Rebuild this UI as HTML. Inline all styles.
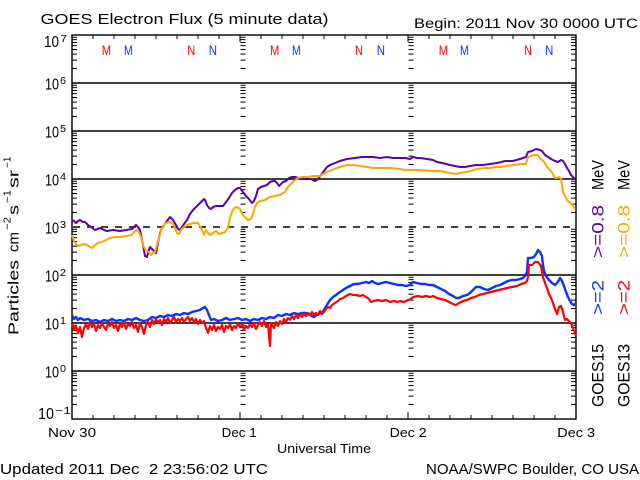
<!DOCTYPE html>
<html><head><meta charset="utf-8"><style>
html,body{margin:0;padding:0;background:#fff;}
svg{display:block;}
text{font-family:"Liberation Sans",sans-serif;fill:#000;}
</style></head><body>
<svg width="640" height="480" viewBox="0 0 640 480" xmlns="http://www.w3.org/2000/svg">
<defs>
<path id="dk" d="M0 2.2h5M0 4.65h5M0 7.44h5M0 10.65h5M0 14.45h5M0 19.1h5M0 25.1h5M0 33.55h5" stroke="#000" stroke-width="1" fill="none"/>
<g id="ax">
<use href="#dk" y="0"/><use href="#dk" y="48"/><use href="#dk" y="96"/><use href="#dk" y="144"/>
<use href="#dk" y="192"/><use href="#dk" y="240"/><use href="#dk" y="288"/><use href="#dk" y="336"/>
</g>
</defs>
<rect width="640" height="480" fill="#fff"/>

<!-- titles -->
<text x="40.5" y="24" font-size="15" textLength="288" lengthAdjust="spacingAndGlyphs">GOES Electron Flux (5 minute data)</text>
<text x="414" y="28" font-size="13.5" textLength="224" lengthAdjust="spacingAndGlyphs">Begin: 2011 Nov 30 0000 UTC</text>

<!-- grid lines -->
<g stroke="#000" stroke-width="1.4" fill="none">
<path d="M72 83H576M72 131H576M72 179H576M72 275H576M72 323H576M72 371H576"/>
<path d="M73 227H576" stroke-dasharray="7 7"/>
<rect x="72" y="35" width="504" height="384"/>
</g>

<!-- ticks -->
<use href="#ax" x="72" y="35"/>
<use href="#ax" transform="translate(576,35) scale(-1,1)"/>
<use href="#ax" x="240.5" y="35"/>
<use href="#ax" x="408.5" y="35"/>
<path stroke="#000" stroke-width="1" fill="none" d="M93 419v-4M114 419v-4M135 419v-4M156 419v-4M177 419v-4M198 419v-4M219 419v-4M240 419v-7M261 419v-4M282 419v-4M303 419v-4M324 419v-4M345 419v-4M366 419v-4M387 419v-4M408 419v-7M429 419v-4M450 419v-4M471 419v-4M492 419v-4M513 419v-4M534 419v-4M555 419v-4
M93 35v4M114 35v4M135 35v4M156 35v4M177 35v4M198 35v4M219 35v4M240 35v7M261 35v4M282 35v4M303 35v4M324 35v4M345 35v4M366 35v4M387 35v4M408 35v7M429 35v4M450 35v4M471 35v4M492 35v4M513 35v4M534 35v4M555 35v4"/>

<!-- y tick labels -->
<g font-size="15.4">
<text x="44" y="47" textLength="15" lengthAdjust="spacingAndGlyphs">10</text>
<text x="45" y="89.5" textLength="14" lengthAdjust="spacingAndGlyphs">10</text>
<text x="45" y="137.5" textLength="14" lengthAdjust="spacingAndGlyphs">10</text>
<text x="45" y="185.5" textLength="14" lengthAdjust="spacingAndGlyphs">10</text>
<text x="45" y="233.5" textLength="14" lengthAdjust="spacingAndGlyphs">10</text>
<text x="45" y="281.5" textLength="14" lengthAdjust="spacingAndGlyphs">10</text>
<text x="45" y="329.5" textLength="14" lengthAdjust="spacingAndGlyphs">10</text>
<text x="45" y="377.5" textLength="14" lengthAdjust="spacingAndGlyphs">10</text>
<text x="38" y="419" textLength="16" lengthAdjust="spacingAndGlyphs">10</text>
</g>
<g font-size="10">
<text x="60.5" y="42" textLength="6.5" lengthAdjust="spacingAndGlyphs">7</text>
<text x="60" y="84" textLength="6" lengthAdjust="spacingAndGlyphs">6</text>
<text x="60" y="132" textLength="6" lengthAdjust="spacingAndGlyphs">5</text>
<text x="60" y="180" textLength="6" lengthAdjust="spacingAndGlyphs">4</text>
<text x="60" y="228" textLength="6" lengthAdjust="spacingAndGlyphs">3</text>
<text x="60" y="276" textLength="6" lengthAdjust="spacingAndGlyphs">2</text>
<text x="60" y="324" textLength="6" lengthAdjust="spacingAndGlyphs">1</text>
<text x="60" y="372" textLength="6" lengthAdjust="spacingAndGlyphs">0</text>
<text x="55" y="414" textLength="16" lengthAdjust="spacingAndGlyphs">&#8722;1</text>
</g>

<!-- y axis title -->
<g transform="translate(18.5,335) rotate(-90)" font-size="15">
<text x="0" y="0" textLength="75" lengthAdjust="spacingAndGlyphs">Particles</text>
<text x="83" y="0" textLength="20" lengthAdjust="spacingAndGlyphs">cm</text>
<text x="105" y="-8" font-size="10" textLength="13" lengthAdjust="spacingAndGlyphs">&#8722;2</text>
<text x="120" y="0" textLength="10" lengthAdjust="spacingAndGlyphs">s</text>
<text x="132" y="-8" font-size="10" textLength="13" lengthAdjust="spacingAndGlyphs">&#8722;1</text>
<text x="147" y="0" textLength="18" lengthAdjust="spacingAndGlyphs">sr</text>
<text x="167" y="-8" font-size="10" textLength="11.5" lengthAdjust="spacingAndGlyphs">&#8722;1</text>
</g>

<!-- M/N markers -->
<g font-size="13.7">
<text x="101.7" y="55" fill="#ff0000" style="fill:#ff0000" textLength="9.3" lengthAdjust="spacingAndGlyphs">M</text>
<text x="124" y="55" style="fill:#1030ff" textLength="8.7" lengthAdjust="spacingAndGlyphs">M</text>
<text x="187.3" y="55" style="fill:#ff0000" textLength="8" lengthAdjust="spacingAndGlyphs">N</text>
<text x="208.7" y="55" style="fill:#1030ff" textLength="8.3" lengthAdjust="spacingAndGlyphs">N</text>
<text x="270" y="55" style="fill:#ff0000" textLength="9.3" lengthAdjust="spacingAndGlyphs">M</text>
<text x="292" y="55" style="fill:#1030ff" textLength="8.7" lengthAdjust="spacingAndGlyphs">M</text>
<text x="355" y="55" style="fill:#ff0000" textLength="8" lengthAdjust="spacingAndGlyphs">N</text>
<text x="376.7" y="55" style="fill:#1030ff" textLength="8.3" lengthAdjust="spacingAndGlyphs">N</text>
<text x="438.7" y="55" style="fill:#ff0000" textLength="9.3" lengthAdjust="spacingAndGlyphs">M</text>
<text x="460" y="55" style="fill:#1030ff" textLength="8.7" lengthAdjust="spacingAndGlyphs">M</text>
<text x="524" y="55" style="fill:#ff0000" textLength="8" lengthAdjust="spacingAndGlyphs">N</text>
<text x="545" y="55" style="fill:#1030ff" textLength="8.3" lengthAdjust="spacingAndGlyphs">N</text>
</g>

<!-- data series -->
<g fill="none" stroke-linejoin="round">
<polyline stroke="#5c00a8" stroke-width="2" points="72,220 74,221 76,223 78,221 80,220 83,222 85,222 88,225 91,227 95,230 100,228 104,230 107,231 113,230 120,231 126,230 132,229 134,227 136,225 138,227 140,230 142,240 143,245 145,256 147,257 148,253 150,247 152,249 154,251 156,253 158,243 160,233 162,228 164,225 167,221 170,217 173,220 176,225 178,229 180,230 182,227 184,224 187,220 190,214 193,210 196,207 199,204 202,201 204,199 205,200 207,205 209,208 211,209 213,207 216,206 220,206 223,206 226,202 229,198 232,193 235,190 238,188 240,188 243,192 246,196 249,199 252,203 254,201 256,196 258,189 261,187 264,186 267,185 270,182 273,181 275,181 277,183 279,186 281,184 283,182 286,181 289,178 292,177 295,177 298,178 301,179 306,179 311,179 315,181 318,179 321,175 324,171 327,167 330,165 335,163 340,161 347,159 355,158 362,157 367,157 373,157 380,158 387,157 393,158 400,158 405,158 410,159 413,157 417,158 420,158 427,159 433,160 437,162 442,163 446,164 450,165 455,166 460,167 465,167 470,166 476,165 483,165 490,164 497,163 505,161 513,161 520,159 526,157 528,152 532,151 536,149 540,150 542,151 545,155 548,157 551,159 555,161 558,162 561,160 563,161 565,164 567,168 569,171 571,175 573,177 575,179"/>
<polyline stroke="#ffa500" stroke-width="2" points="72,235 74,241 76,244 78,246 81,245 84,244 87,245 90,247 92,248 95,245 98,243 102,242 106,240 110,238 114,237 120,237 126,236 132,235 134,232 137,230 139,232 141,237 143,245 145,249 147,251 149,252 151,255 153,253 155,252 157,245 159,238 161,231 163,226 166,223 170,222 173,224 175,228 177,233 179,234 181,230 184,227 187,225 190,224 194,223 198,223 200,226 202,230 204,235 206,230 208,233 210,235 213,233 216,231 219,234 222,233 225,232 228,228 230,218 232,212 234,208 237,207 240,209 243,215 246,218 248,220 251,219 253,214 255,207 257,203 260,201 265,200 270,197 275,196 280,195 285,192 288,187 291,184 294,181 298,178 302,177 307,177 314,176 320,176 323,174 327,172 332,170 337,168 343,166 348,165 353,165 360,166 367,167 373,168 380,168 390,168 400,169 405,170 410,170 420,170 433,171 440,171 445,172 450,173 456,174 460,173 466,172 471,171 477,169 484,168 490,168 495,167 500,167 507,166 513,165 520,164 526,164 527,160 528,157 531,156 535,155 538,155 540,158 543,161 545,163 547,167 549,169 551,171 553,174 555,178 557,178 559,177 561,179 562,185 563,192 565,196 567,200 569,202 571,203 573,206 575,209"/>
<polyline stroke="#1030ff" stroke-width="2.4" points="72,315 74,319 76,317 78,320 80,318 84,320 88,319 92,321 96,320 100,322 104,320 108,321 112,319 116,321 120,320 124,321 128,319 132,320 136,318 140,320 144,321 148,320 152,317 156,318 160,316 164,317 168,315 172,316 176,314 180,315 184,313 188,314 192,312 196,311 200,310 203,308 205,307 207,310 209,315 211,320 214,319 218,321 222,320 226,318 230,320 234,319 238,318 242,320 246,319 250,321 254,319 258,320 262,318 266,319 270,317 274,318 278,315 282,316 286,314 290,315 294,313 298,314 302,313 306,313 310,315 314,317 318,314 322,313 325,308 327,305 330,300 333,297 336,295 340,292 343,290 346,288 350,286 354,284 358,284 362,283 366,282 369,283 372,281 375,283 378,284 382,283 386,282 390,283 394,284 398,285 402,285 406,286 410,285 413,282 417,283 421,284 425,284 429,285 433,285 437,287 441,289 445,291 449,294 453,296 456,298 459,298 463,296 467,295 470,293 473,290 476,287 480,287 484,289 488,290 492,288 496,286 500,285 504,283 508,281 512,280 516,280 520,279 523,278 525,276 527,272 528,258 531,258 534,257 536,254 538,250 540,252 542,256 543,265 544,271 546,276 549,280 552,283 555,285 557,283 559,280 560,278 562,281 564,286 566,292 568,297 570,301 572,304 574,305 576,303"/>
<polyline stroke="#ff0000" stroke-width="2.2" points="72,323 74,330 76,326 78,333 80,327 82,337 84,328 86,324 88,329 90,322 92,327 94,324 96,331 98,325 100,328 102,323 104,327 106,330 108,324 110,326 112,322 114,328 116,325 118,331 120,324 122,327 124,323 126,329 128,324 130,326 132,322 134,328 136,325 138,332 140,323 142,327 144,334 146,325 148,322 150,327 152,320 154,324 156,319 158,323 160,320 162,325 164,319 166,322 168,318 170,323 172,320 174,317 176,322 178,319 180,321 182,318 184,322 186,319 188,317 190,321 192,318 194,322 196,319 198,324 200,320 202,323 204,321 206,328 208,333 210,326 212,330 214,325 216,331 218,327 220,329 222,325 224,332 226,326 228,328 230,324 232,330 234,326 236,328 238,323 240,327 242,324 244,330 246,326 248,328 250,324 252,327 254,323 256,329 258,325 260,322 262,326 264,321 266,327 268,324 270,346 271,323 274,328 276,322 278,326 280,321 282,324 284,319 286,322 288,318 290,320 292,316 294,319 296,315 298,318 300,314 302,317 304,314 306,316 308,313 310,315 312,312 314,315 316,313 318,315 320,311 322,314 324,312 326,309 328,307 330,308 332,305 335,303 338,301 340,299 343,298 346,296 350,294 353,295 356,295 360,296 363,295 366,297 369,299 371,302 374,301 378,300 382,301 386,300 390,302 394,301 398,302 400,301 404,302 408,300 411,299 413,297 418,296 422,297 426,296 430,297 433,296 437,298 441,299 445,300 449,302 453,304 456,305 459,303 463,301 467,300 471,298 475,297 479,295 483,294 487,293 491,292 495,291 499,290 503,289 507,288 512,287 517,286 521,284 525,283 527,281 528,277 529,265 532,265 535,262 538,262 541,266 543,277 545,283 547,288 549,294 551,298 553,303 555,309 557,314 559,307 561,306 563,312 565,320 567,319 569,321 571,323 573,328 575,333 576,336"/>
</g>

<!-- right side labels -->
<g font-size="17">
<text transform="translate(603.5,407) rotate(-90)" textLength="63" lengthAdjust="spacingAndGlyphs">GOES15</text>
<text transform="translate(603.5,315) rotate(-90)" style="fill:#1030ff" textLength="35" lengthAdjust="spacingAndGlyphs">&gt;=2</text>
<text transform="translate(603.5,258) rotate(-90)" style="fill:#5c00a8" textLength="53" lengthAdjust="spacingAndGlyphs">&gt;=0.8</text>
<text transform="translate(603.5,190) rotate(-90)" textLength="30" lengthAdjust="spacingAndGlyphs">MeV</text>
<text transform="translate(629.5,407) rotate(-90)" textLength="63" lengthAdjust="spacingAndGlyphs">GOES13</text>
<text transform="translate(629.5,315) rotate(-90)" style="fill:#ff0000" textLength="35" lengthAdjust="spacingAndGlyphs">&gt;=2</text>
<text transform="translate(629.5,258) rotate(-90)" style="fill:#ffa500" textLength="53" lengthAdjust="spacingAndGlyphs">&gt;=0.8</text>
<text transform="translate(629.5,190) rotate(-90)" textLength="30" lengthAdjust="spacingAndGlyphs">MeV</text>
</g>

<!-- x labels -->
<g font-size="12.5">
<text x="48" y="437" textLength="48" lengthAdjust="spacingAndGlyphs">Nov 30</text>
<text x="221.7" y="437" textLength="35" lengthAdjust="spacingAndGlyphs">Dec 1</text>
<text x="389.7" y="437" textLength="37" lengthAdjust="spacingAndGlyphs">Dec 2</text>
<text x="557.3" y="437" textLength="37.7" lengthAdjust="spacingAndGlyphs">Dec 3</text>
<text x="277" y="453" textLength="94" lengthAdjust="spacingAndGlyphs">Universal Time</text>
</g>

<!-- footer -->
<text x="0" y="474" font-size="14.5" textLength="268" lengthAdjust="spacingAndGlyphs" xml:space="preserve" style="white-space:pre">Updated 2011 Dec  2 23:56:02 UTC</text>
<text x="426" y="474" font-size="14.5" textLength="213" lengthAdjust="spacingAndGlyphs">NOAA/SWPC Boulder, CO USA</text>
</svg>
</body></html>
